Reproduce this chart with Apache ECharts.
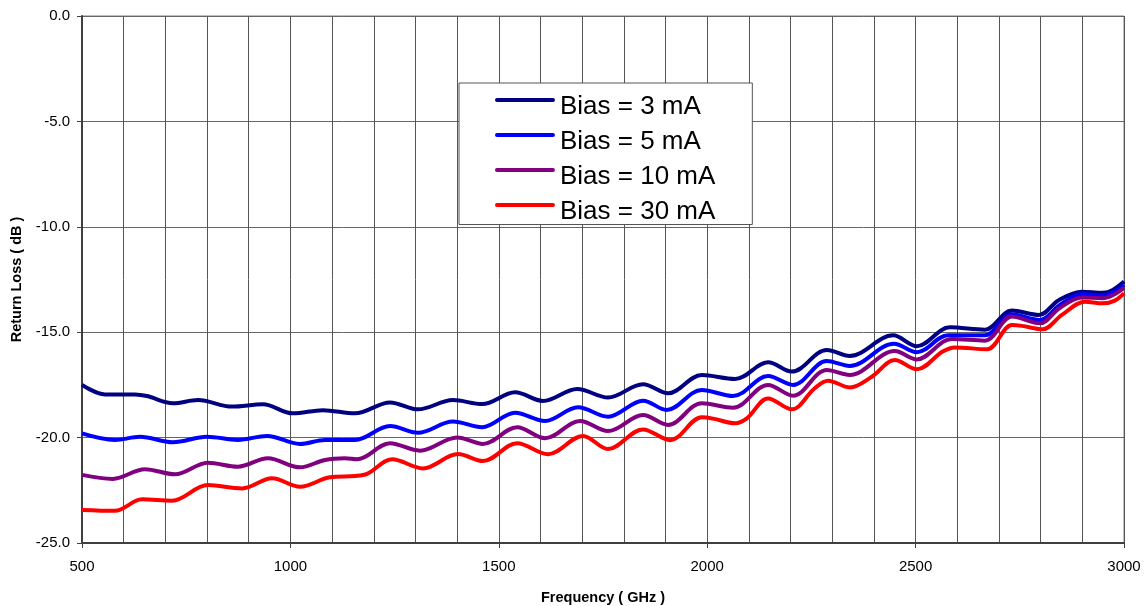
<!DOCTYPE html>
<html>
<head>
<meta charset="utf-8">
<script src="https://cdn.jsdelivr.net/npm/echarts@6/dist/echarts.min.js"></script>
<style>
html,body{margin:0;padding:0;background:#fff;}
#chart{width:1144px;height:606px;}
</style>
</head>
<body>
<div id="chart"></div>
<script>
// Frequencies (GHz) and return loss (dB)
const freq3mA = [500,555,627,656,718,778,860,934,1006,1078,1155,1239,1306,1390,1460,1539,1606,1688,1762,1846,1906,1987,2067,2146,2203,2287,2342,2446,2503,2582,2666,2731,2796,2844,2899,2949,2973,3000];
const loss3mA = [-17.5,-17.95,-17.95,-18.03,-18.37,-18.22,-18.53,-18.42,-18.85,-18.7,-18.85,-18.33,-18.66,-18.22,-18.41,-17.85,-18.26,-17.69,-18.1,-17.47,-17.9,-17.03,-17.22,-16.43,-16.87,-15.84,-16.13,-15.15,-15.67,-14.77,-14.88,-13.97,-14.18,-13.47,-13.08,-13.13,-13.0,-12.6];

const freq5mA = [500,579,639,718,800,874,944,1023,1083,1155,1239,1306,1390,1460,1539,1611,1690,1762,1846,1903,1987,2062,2146,2206,2287,2342,2448,2503,2578,2666,2731,2798,2846,2899,2949,2973,3000];
const loss5mA = [-19.8,-20.11,-19.96,-20.22,-19.96,-20.11,-19.92,-20.3,-20.11,-20.11,-19.45,-19.77,-19.24,-19.51,-18.82,-19.21,-18.56,-19.01,-18.25,-18.69,-17.74,-18.03,-17.08,-17.5,-16.37,-16.6,-15.55,-15.95,-15.15,-15.15,-14.15,-14.42,-13.71,-13.19,-13.26,-13.12,-12.76];

const freq10mA = [500,574,651,723,802,874,946,1023,1083,1131,1160,1239,1311,1400,1462,1544,1611,1695,1762,1846,1906,1987,2062,2146,2206,2287,2342,2450,2503,2587,2666,2731,2798,2846,2899,2949,2973,3000];
const loss10mA = [-21.77,-21.96,-21.5,-21.74,-21.19,-21.38,-20.98,-21.41,-21.06,-20.98,-21.03,-20.27,-20.62,-19.99,-20.3,-19.51,-20.03,-19.21,-19.69,-18.93,-19.4,-18.37,-18.58,-17.5,-18.01,-16.79,-17.03,-15.89,-16.29,-15.32,-15.4,-14.26,-14.58,-13.85,-13.35,-13.39,-13.25,-12.9];

const freq30mA = [500,579,644,716,802,884,956,1023,1095,1155,1184,1244,1318,1402,1462,1544,1618,1702,1762,1846,1911,1987,2014,2067,2095,2146,2203,2258,2290,2342,2395,2450,2503,2565,2594,2671,2731,2755,2805,2851,2906,2949,2978,3000];
const loss30mA = [-23.43,-23.47,-22.93,-22.99,-22.25,-22.41,-21.93,-22.33,-21.88,-21.82,-21.72,-21.03,-21.46,-20.78,-21.11,-20.27,-20.79,-19.92,-20.54,-19.61,-20.12,-19.04,-19.1,-19.32,-19.09,-18.14,-18.66,-17.66,-17.3,-17.62,-17.11,-16.32,-16.76,-15.92,-15.72,-15.81,-14.66,-14.7,-14.86,-14.18,-13.55,-13.63,-13.5,-13.16];

const seriesNames = ['Bias = 3 mA','Bias = 5 mA','Bias = 10 mA','Bias = 30 mA'];
const seriesColors = ['#000080','#0000ff','#800080','#ff0000'];
const xTicks = [500,1000,1500,2000,2500,3000];
const yTicks = [0,-5,-10,-15,-20,-25];

const pairs = (f, v) => f.map((x, i) => [x, v[i]]);
const dataSets = [pairs(freq3mA, loss3mA), pairs(freq5mA, loss5mA), pairs(freq10mA, loss10mA), pairs(freq30mA, loss30mA)];

// legend swatch: a rounded bar sitting at the top of the icon box, so the label sits lower
const legendIcon = 'path://M2,0 L58,0 A2,2 0 0 1 58,4 L2,4 A2,2 0 0 1 2,0 Z M30,17 L30.01,17 L30.01,17.01 Z';

const chart = echarts.init(document.getElementById('chart'), null, {renderer:'canvas'});
const font = 'Liberation Sans, Arial, sans-serif';
chart.setOption({
  animation:false,
  backgroundColor:'#ffffff',
  grid:{left:82,right:20,top:16,bottom:63,show:true,borderColor:'#808080',borderWidth:1,containLabel:false,outerBoundsMode:'none'},
  legend:{
    show:true,
    data:seriesNames,
    orient:'vertical',
    left:459, top:83,
    padding:[10.5,37,0,36],
    itemGap:9,
    itemWidth:60,
    itemHeight:17,
    icon:legendIcon,
    itemStyle:{borderWidth:0},
    backgroundColor:'#ffffff',
    borderColor:'#555555',
    borderWidth:1,
    textStyle:{fontFamily:font,fontSize:26,color:'#000'}
  },
  xAxis:{
    type:'value',
    min:xTicks[0], max:xTicks[xTicks.length-1], interval:500,
    name:'Frequency ( GHz )',
    nameLocation:'middle', nameGap:47,
    nameTextStyle:{fontFamily:font,fontSize:14.5,fontWeight:'bold',color:'#000'},
    axisLine:{show:true,onZero:false,lineStyle:{color:'#404040',width:2}},
    axisTick:{show:true,length:5,lineStyle:{color:'#404040'}},
    axisLabel:{fontFamily:font,fontSize:15,color:'#000',margin:16,formatter:v=>String(v)},
    splitLine:{show:true,lineStyle:{color:'#555555',width:1}},
    minorTick:{show:false,splitNumber:5},
    minorSplitLine:{show:true,lineStyle:{color:'#555555',width:1}}
  },
  yAxis:{
    type:'value',
    min:yTicks[yTicks.length-1], max:yTicks[0], interval:5,
    name:'Return Loss ( dB )',
    nameLocation:'middle', nameGap:58, nameRotate:90,
    nameTextStyle:{fontFamily:font,fontSize:14.5,fontWeight:'bold',color:'#000'},
    axisLine:{show:true,lineStyle:{color:'#404040',width:2}},
    axisTick:{show:true,length:5,lineStyle:{color:'#404040'}},
    axisLabel:{fontFamily:font,fontSize:15,color:'#000',margin:12,formatter:v=>v.toFixed(1)},
    splitLine:{show:true,lineStyle:{color:'#666666',width:1}}
  },
  series: seriesNames.map((n, i) => ({
    name:n,
    type:'line',
    data:dataSets[i],
    smooth:0.35,
    showSymbol:false,
    symbol:'none',
    color:seriesColors[i],
    lineStyle:{color:seriesColors[i],width:4},
    z:2+i
  }))
});
</script>
</body>
</html>
